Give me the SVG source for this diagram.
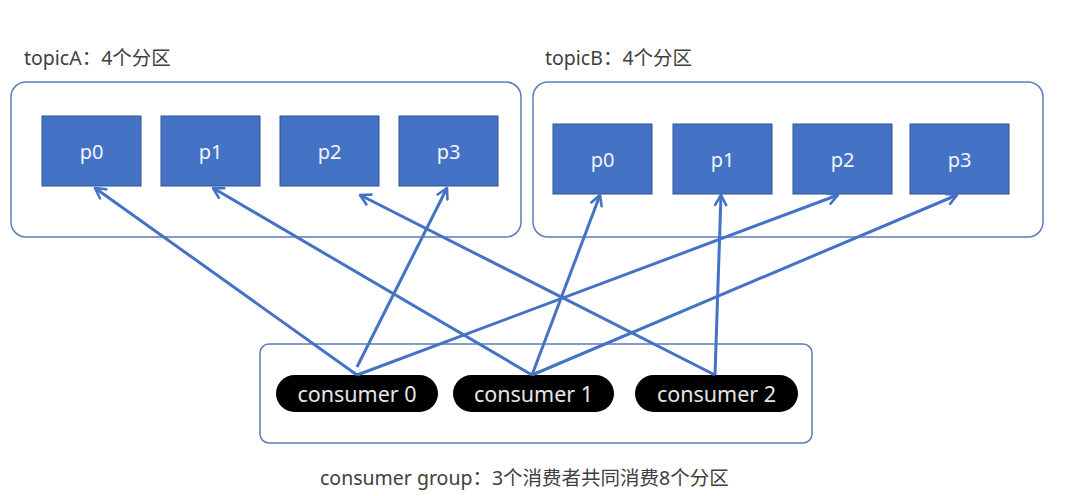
<svg xmlns="http://www.w3.org/2000/svg" width="1073" height="496" viewBox="0 0 1073 496">
  <style>
    .container { fill: #ffffff; stroke: #5A7DBA; stroke-width: 1.5; }
    .part { fill: #4472C4; stroke: #2F528F; stroke-width: 1; }
    .ptext { fill: #F2F5FB; font-family: "Noto Sans", "Noto Sans CJK SC", sans-serif; font-size: 20px; text-anchor: middle; dominant-baseline: central; }
    .pill { fill: #000000; }
    .ctext { fill: #E6E6E6; font-family: "Noto Sans", "Noto Sans CJK SC", sans-serif; font-size: 21.5px; text-anchor: middle; dominant-baseline: central; }
    .label { fill: #404040; font-family: "Noto Sans", "Noto Sans CJK SC", sans-serif; font-size: 19.5px; }
    .conn { stroke: #4472C4; stroke-width: 3; fill: none; marker-end: url(#arr); }
  </style>
  <defs>
    <marker id="arr" viewBox="0 0 14 14" refX="12" refY="7" markerWidth="14" markerHeight="14" markerUnits="userSpaceOnUse" orient="auto">
      <path d="M2,1.5 L12,7 L2,12.5" fill="none" stroke="#4472C4" stroke-width="2.6" stroke-linecap="round" stroke-linejoin="round"/>
    </marker>
  </defs>
  <rect width="1073" height="496" fill="#ffffff"/>

  <g id="topicA">
    <text class="label" x="24" y="65">topicA：4个分区</text>
    <rect class="container" x="11" y="82" width="510" height="155" rx="15"/>
    <g id="topicA-p0"><rect class="part" x="42" y="116" width="99" height="70"/><text class="ptext" x="91.5" y="151">p0</text></g>
    <g id="topicA-p1"><rect class="part" x="161" y="116" width="99" height="70"/><text class="ptext" x="210.5" y="151">p1</text></g>
    <g id="topicA-p2"><rect class="part" x="280" y="116" width="99" height="70"/><text class="ptext" x="329.5" y="151">p2</text></g>
    <g id="topicA-p3"><rect class="part" x="399" y="116" width="99" height="70"/><text class="ptext" x="448.5" y="151">p3</text></g>
  </g>

  <g id="topicB">
    <text class="label" x="545" y="65">topicB：4个分区</text>
    <rect class="container" x="533" y="82" width="510" height="155" rx="15"/>
    <g id="topicB-p0"><rect class="part" x="553" y="124" width="99" height="70"/><text class="ptext" x="602.5" y="159">p0</text></g>
    <g id="topicB-p1"><rect class="part" x="673" y="124" width="99" height="70"/><text class="ptext" x="722.5" y="159">p1</text></g>
    <g id="topicB-p2"><rect class="part" x="793" y="124" width="99" height="70"/><text class="ptext" x="842.5" y="159">p2</text></g>
    <g id="topicB-p3"><rect class="part" x="910" y="124" width="99" height="70"/><text class="ptext" x="959.5" y="159">p3</text></g>
  </g>

  <g id="consumer-group">
    <rect class="container" x="260" y="344" width="552" height="99" rx="9"/>
    <text class="label" x="320" y="485">consumer group：3个消费者共同消费8个分区</text>
  </g>
  <g id="consumer0"><rect class="pill" x="276" y="375" width="162" height="37" rx="18.5"/><text class="ctext" x="357" y="393">consumer 0</text></g>
  <g id="consumer1"><rect class="pill" x="453" y="375" width="161" height="37" rx="18.5"/><text class="ctext" x="533.5" y="393">consumer 1</text></g>
  <g id="consumer2"><rect class="pill" x="635" y="375" width="163" height="37" rx="18.5"/><text class="ctext" x="716.5" y="393">consumer 2</text></g>

  <g id="connectors">
    <line class="conn" x1="357" y1="375" x2="95" y2="188"/>
    <line class="conn" x1="357" y1="367" x2="447" y2="188"/>
    <line class="conn" x1="357" y1="375" x2="838" y2="195"/>
    <line class="conn" x1="532" y1="375" x2="213" y2="188"/>
    <line class="conn" x1="532" y1="375" x2="600" y2="195"/>
    <line class="conn" x1="532" y1="375" x2="957" y2="195"/>
    <line class="conn" x1="715" y1="375" x2="360" y2="195"/>
    <line class="conn" x1="715" y1="375" x2="721" y2="195"/>
  </g>
</svg>
